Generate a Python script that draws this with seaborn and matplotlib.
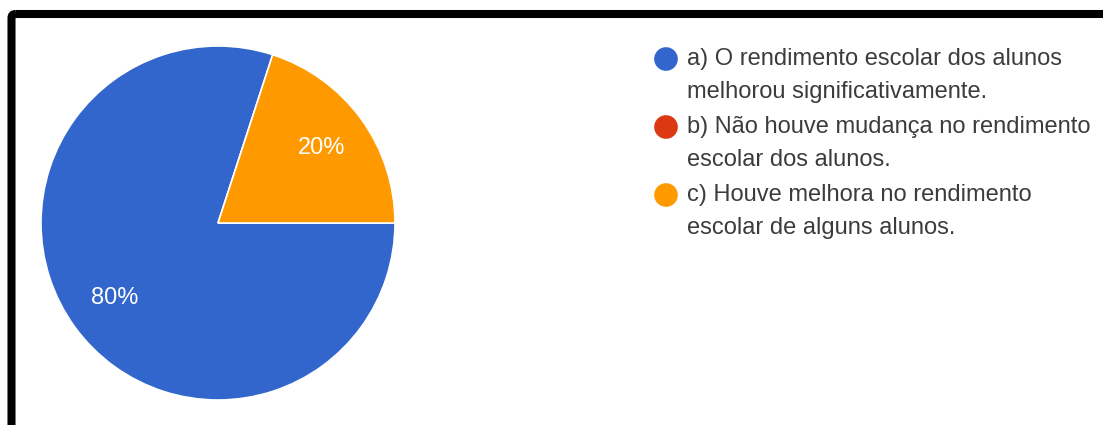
import matplotlib
matplotlib.use("Agg")
import matplotlib.pyplot as plt
import seaborn as sns
from matplotlib.patches import FancyBboxPatch

sns.set_theme(style="white")
plt.rcParams['font.family'] = ['Liberation Sans', 'DejaVu Sans']

categories = [
    "a) O rendimento escolar dos alunos\nmelhorou significativamente.",
    "b) Não houve mudança no rendimento\nescolar dos alunos.",
    "c) Houve melhora no rendimento\nescolar de alguns alunos.",
]
values = [80, 0, 20]
colors = ["#3366cc", "#dc3912", "#ff9900"]

W, H = 1103, 425
fig = plt.figure(figsize=(W / 100, H / 100), dpi=100)
fig.patch.set_facecolor("white")

# Pie axes (pixel geometry converted to figure fractions)
cx, cy, r = 218, 223, 177
ax = fig.add_axes([(cx - r) / W, (H - cy - r) / H, 2 * r / W, 2 * r / H])
nz = [(v, c) for v, c in zip(values, colors) if v > 0]
wedges, texts, autotexts = ax.pie(
    [v for v, _ in nz],
    colors=[c for _, c in nz],
    startangle=72,
    counterclock=True,
    autopct=lambda p: f"{p:.0f}%",
    pctdistance=0.72,
    wedgeprops=dict(edgecolor="white", linewidth=1.2),
    textprops=dict(color="white", fontsize=17),
    radius=1.0,
)
ax.set_xlim(-1, 1)
ax.set_ylim(-1, 1)
ax.set_aspect("equal")
ax.axis("off")

# Overlay axes in pixel coordinates for legend and frame
ov = fig.add_axes([0, 0, 1, 1], zorder=-1)
ov.set_xlim(0, W)
ov.set_ylim(H, 0)
ov.axis("off")
ov.add_patch(FancyBboxPatch((11.5, 14), W + 50, H + 50,
                            boxstyle="round,pad=0,rounding_size=4",
                            fill=False, edgecolor="black", linewidth=5.8))

leg = fig.add_axes([0, 0, 1, 1], zorder=2)
leg.set_xlim(0, W)
leg.set_ylim(H, 0)
leg.axis("off")
ys = [59, 127, 195]
for lab, col, y in zip(categories, colors, ys):
    leg.scatter([666], [y], s=290, color=col, edgecolors="none")
    lines = lab.split("\n")
    for i, ln in enumerate(lines):
        leg.text(687, y + i * 33, ln, fontsize=17, color="#3c3c3c",
                 va="center", ha="left")

fig.savefig("out.png", dpi=100)
